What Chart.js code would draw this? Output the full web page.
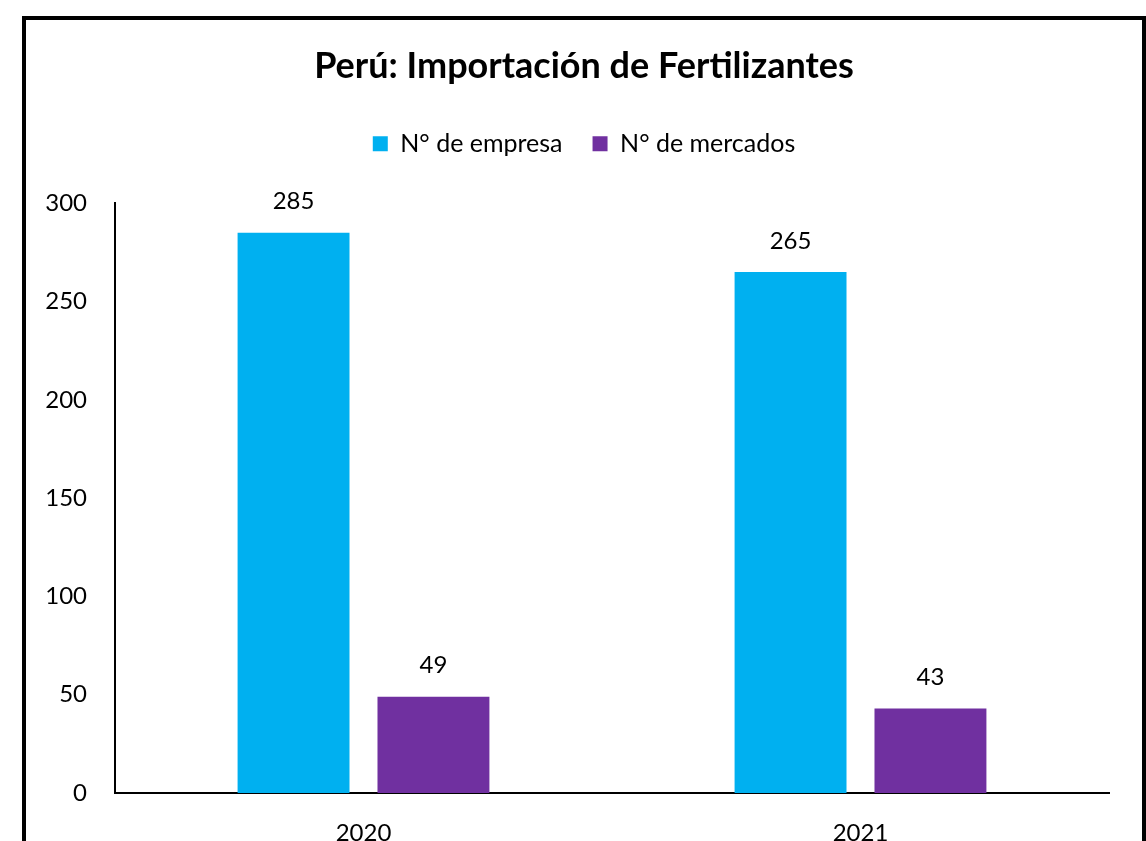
<!DOCTYPE html>
<html>
<head>
<meta charset="utf-8">
<script src="https://cdn.jsdelivr.net/npm/chart.js@4/dist/chart.umd.min.js"></script>
<style>
  html, body { margin: 0; padding: 0; background: #fff; width: 1146px; height: 841px; overflow: hidden; }
  #frame { position: absolute; left: 22px; top: 16px; width: 1116px; height: 900px; border: 4px solid #000; box-sizing: content-box; }
  #c { position: absolute; left: 0; top: 0; }
</style>
</head>
<body>
<div id="frame"></div>
<canvas id="c" width="1146" height="841"></canvas>
<script>
const categories = ['2020', '2021'];
const empresas = [285, 265];
const mercados = [49, 43];
const seriesNames = ['N° de empresa', 'N° de mercados'];
const titleText = 'Perú: Importación de Fertilizantes';

const FONT = 'Lato, "Open Sans", sans-serif';

const valueLabels = {
  id: 'valueLabels',
  afterDatasetsDraw(chart) {
    const ctx = chart.ctx;
    ctx.save();
    ctx.font = '24px ' + FONT;
    ctx.fillStyle = '#000';
    ctx.textAlign = 'center';
    ctx.textBaseline = 'middle';
    chart.data.datasets.forEach((ds, i) => {
      const meta = chart.getDatasetMeta(i);
      meta.data.forEach((el, j) => {
        ctx.fillText(String(ds.data[j]), el.x, el.y - 31);
      });
    });
    ctx.restore();
  }
};

new Chart(document.getElementById('c'), {
  type: 'bar',
  data: {
    labels: categories,
    datasets: [
      { label: seriesNames[0], data: empresas, backgroundColor: '#00B0F0', borderWidth: 0 },
      { label: seriesNames[1], data: mercados, backgroundColor: '#7030A0', borderWidth: 0 }
    ]
  },
  options: {
    responsive: false,
    animation: false,
    devicePixelRatio: 1,
    layout: { padding: { left: 22, right: 0, top: 16, bottom: 0 } },
    datasets: { bar: { categoryPercentage: 0.563, barPercentage: 0.8 } },
    plugins: {
      tooltip: { enabled: false },
      title: {
        display: true,
        text: titleText,
        color: '#000',
        font: { family: FONT, size: 36, weight: 'bold' },
        padding: { top: 29, bottom: 13 }
      },
      legend: {
        display: true,
        position: 'top',
        labels: {
          color: '#000',
          font: { family: FONT, size: 25 },
          boxWidth: 15,
          boxHeight: 15,
          padding: 30
        }
      }
    },
    scales: {
      x: {
        grid: { display: false },
        border: { display: true, color: '#000', width: 2 },
        ticks: { color: '#000', font: { family: FONT, size: 24 }, padding: 18 },
        afterFit(scale) { scale.height = 48; }
      },
      xTop: {
        type: 'linear',
        position: 'top',
        display: true,
        grid: { display: false, drawTicks: false },
        border: { display: false },
        ticks: { display: false },
        afterFit(scale) { scale.height = 37; }
      },
      y: {
        min: 0, max: 300,
        grid: { display: false, drawTicks: false },
        border: { display: true, color: '#000', width: 2 },
        ticks: { stepSize: 50, color: '#000', font: { family: FONT, size: 24 }, padding: 28 },
        afterFit(scale) { scale.width = 93; }
      },
      yRight: {
        position: 'right',
        display: true,
        grid: { display: false, drawTicks: false },
        border: { display: false },
        ticks: { display: false },
        afterFit(scale) { scale.width = 37; }
      }
    }
  },
  plugins: [valueLabels]
});
</script>
</body>
</html>
